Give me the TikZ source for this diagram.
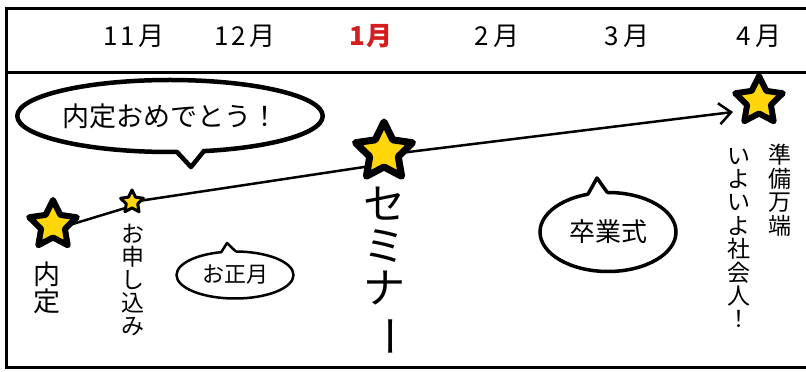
\documentclass[tikz,border=0pt]{standalone}
\usepackage{fontspec}
\usepackage{graphicx}
\setmainfont{Noto Sans CJK JP}
\usetikzlibrary{shapes.geometric,arrows.meta,calc}
\pgfdeclarelayer{background}
\pgfsetlayers{background,main}
\definecolor{staryellow}{RGB}{255,214,10}
\definecolor{monthred}{RGB}{212,30,30}
\begin{document}
\begin{tikzpicture}[x=1pt,y=1pt,
  starnode/.style={star, star points=5, star point ratio=2, draw=black, fill=staryellow, line join=round, inner sep=0pt, outer sep=0pt},
  bubble/.style={ellipse, draw=black, fill=white, inner sep=0pt, outer sep=0pt},
  month/.style={font=\fontsize{26}{26}\selectfont, inner sep=0pt},
  vlabel/.style={align=center, inner sep=0pt},
  timeline/.style={line width=2.5pt, line cap=round},
  frameline/.style={line width=3pt},
  tail/.style={line join=round, line cap=round}]
\useasboundingbox (0,0) rectangle (806,372);
% frame
\draw[frameline] (812,363) -- (6,363) -- (6,4) -- (812,4);
\draw[frameline] (6,299) -- (812,299);
% months
\node[month] (m11) at (134,336) {1\kern3pt1\kern4pt月};
\node[month] (m12) at (245,336) {1\kern3pt2\kern4pt月};
\node[month, text=monthred, font=\fontsize{26}{26}\selectfont\bfseries] (m1) at (371,336) {1\kern2pt月};
\node[month] (m2) at (497,336) {2\kern4pt月};
\node[month] (m3) at (627,336) {3\kern4pt月};
\node[month] (m4) at (759,336) {4\kern4pt月};
% bubbles
\node[bubble, line width=4.5pt, minimum width=285pt, minimum height=72pt, font=\fontsize{27}{27}\selectfont] (congrats) at (170,256) {内定おめでとう！};
\coordinate (ctip) at (191,205);
\fill[white] ($(congrats.center)!0.75!(congrats.281)$) -- (congrats.281) -- (ctip) -- (congrats.314) -- ($(congrats.center)!0.75!(congrats.314)$) -- cycle;
\draw[tail, line width=4.5pt] (congrats.281) -- (ctip) -- (congrats.314);

\node[bubble, line width=2.5pt, minimum width=117pt, minimum height=47pt, font=\fontsize{22}{22}\selectfont] (oshogatsu) at (235,97) {お正月};
\coordinate (otip) at (227,129);
\fill[white] ($(oshogatsu.center)!0.6!(oshogatsu.121)$) -- (oshogatsu.121) -- (otip) -- (oshogatsu.88) -- ($(oshogatsu.center)!0.6!(oshogatsu.88)$) -- cycle;
\draw[tail, line width=2.5pt] (oshogatsu.121) -- (otip) -- (oshogatsu.88);

\node[bubble, line width=3.5pt, minimum width=136pt, minimum height=79pt, font=\fontsize{26}{26}\selectfont] (sotsugyo) at (608,140) {卒業式};
\coordinate (stip) at (597,194);
\fill[white] ($(sotsugyo.center)!0.7!(sotsugyo.118)$) -- (sotsugyo.118) -- (stip) -- (sotsugyo.91) -- ($(sotsugyo.center)!0.7!(sotsugyo.91)$) -- cycle;
\draw[tail, line width=3.5pt] (sotsugyo.118) -- (stip) -- (sotsugyo.91);
% stars
\node[starnode, minimum size=50pt, line width=6pt] (naitei) at (53,147) {};
\node[starnode, minimum size=24pt, line width=3pt] (moushi) at (132,170) {};
\node[starnode, minimum size=60pt, line width=7pt] (seminar) at (384,220) {};
\node[starnode, minimum size=50pt, line width=6pt] (april) at (759,271) {};
\coordinate (arrowtip) at (733,260);
% timeline
\begin{pgfonlayer}{background}
\draw[timeline] ($(naitei.center)+(0,-5)$) -- ($(moushi.center)+(0,-4)$);
\draw[timeline] (moushi.center) -- ($(seminar.center)+(0,-12)$);
\draw[timeline, -{Straight Barb[length=12pt,width=21pt]}] ($(seminar.center)+(0,-3)$) -- (arrowtip);
\end{pgfonlayer}
% vertical labels
\node[vlabel, font=\fontsize{27}{27}\selectfont] (lnaitei) at (47,84) {内\\定};
\node[vlabel, font=\fontsize{23}{23}\selectfont] (lmoushi) at (133,92) {お\\申\\し\\込\\み};
\node[vlabel, font=\fontsize{42}{42}\selectfont] (lseminar) at (384,100) {セ\\ミ\\ナ\\\rotatebox[origin=c]{-90}{ー}};
\node[vlabel, font=\fontsize{23}{23.5}\selectfont] (ljunbi) at (780,182) {準\\備\\万\\端};
\node[vlabel, font=\fontsize{23}{23.4}\selectfont] (liyoiyo) at (739,134) {い\\よ\\い\\よ\\社\\会\\人\\！};
\end{tikzpicture}
\end{document}
